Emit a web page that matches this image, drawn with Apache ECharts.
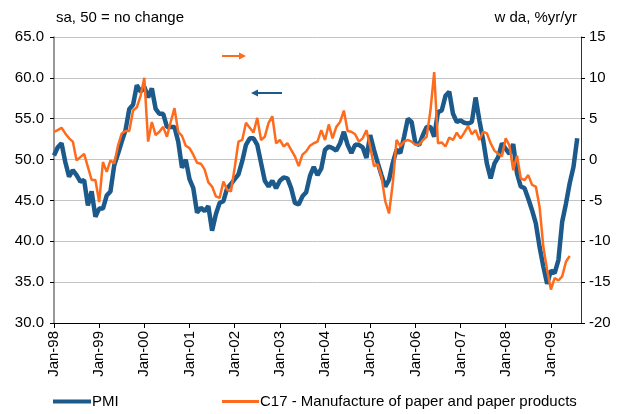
<!DOCTYPE html>
<html>
<head>
<meta charset="utf-8">
<script src="https://cdn.jsdelivr.net/npm/echarts@6/dist/echarts.min.js"></script>
<style>
  html, body { margin: 0; padding: 0; background: #fff; }
  #chart { width: 626px; height: 414px; }
</style>
</head>
<body>
<div id="chart"></div>
<script>
// monthly, Jan-98 .. Sep-09
const months = ['Jan','Feb','Mar','Apr','May','Jun','Jul','Aug','Sep','Oct','Nov','Dec'];
const startYear = 1998;
const monthCount = 141;

// PMI, sa, 50 = no change (left axis)
const pmi = [
  50.5, 51.5, 52.0, 49.7, 47.9, 48.7, 48.1, 47.3, 47.5, 44.4, 46.1, 43.0,
  44.0, 44.0, 45.6, 46.1, 49.3, 50.7, 52.2, 53.6, 56.2, 56.7, 59.1, 58.3,
  58.9, 57.6, 58.7, 56.2, 55.6, 55.6, 54.0, 54.0, 54.0, 52.2, 49.0, 50.0,
  47.6, 46.5, 43.5, 44.1, 43.7, 44.3, 41.3, 43.3, 44.7, 44.9, 46.5, 47.0,
  47.6, 48.2, 49.8, 51.8, 52.6, 52.6, 51.8, 49.6, 47.4, 46.7, 47.4, 46.5,
  47.4, 47.8, 47.7, 46.5, 44.7, 44.5, 45.5, 46.0, 48.0, 49.1, 48.1, 48.9,
  51.2, 51.6, 51.4, 51.1, 52.0, 53.4, 51.8, 50.8, 51.8, 51.8, 51.5, 50.2,
  53.0, 51.2, 49.6, 48.1, 46.7, 47.5, 49.6, 51.2, 50.8, 52.8, 55.0, 54.6,
  52.0, 51.8, 53.0, 54.0, 54.0, 52.8, 55.8, 56.0, 57.8, 58.3, 55.6, 54.6,
  54.8, 54.5, 54.4, 54.6, 57.6, 54.8, 52.4, 49.5, 47.7, 49.5, 50.3, 52.0,
  51.3, 50.7, 51.9, 48.3, 46.7, 46.5, 45.2, 43.8, 42.2, 39.3, 36.9, 34.8,
  36.4, 36.1, 37.7, 42.4, 44.6, 47.1, 49.1, 52.6
];

// C17 output, wda %yr/yr (right axis)
const paper = [
  3.4, 3.6, 3.9, 3.2, 2.6, 2.2, -0.1, 0.3, 0.7, -0.9, -2.5, -2.5,
  -5.2, -0.3, -1.5, -0.1, -0.5, 1.7, 3.2, 3.5, 3.5, 6.0, 6.4, 7.8,
  10.0, 2.2, 4.6, 3.0, 3.4, 4.0, 2.8, 4.6, 6.3, 3.4, 2.9, 1.7,
  1.4, 0.6, -0.4, -0.5, -1.2, -2.8, -3.3, -4.5, -4.7, -2.7, -3.7, -3.9,
  -1.0, 2.2, 2.4, 4.5, 3.9, 3.3, 5.1, 2.4, 2.8, 4.5, 5.3, 2.0,
  2.4, 1.6, 2.0, 1.2, 0.4, -0.8, 0.6, 1.0, 1.7, 2.0, 2.2, 3.6,
  2.4, 4.3, 2.6, 4.0, 4.6, 6.0, 3.5, 3.4, 3.1, 2.2, 2.6, 3.6,
  1.6, -0.8, -0.6, -2.1, -5.1, -6.6, -2.9, 2.4, 1.6, 2.2, 2.4, 2.2,
  1.8, 1.8, 2.4, 2.8, 6.0, 10.7, 2.0, 2.1, 1.6, 2.7, 2.4, 3.3,
  2.6, 3.3, 4.1, 3.1, 3.6, 2.4, 3.4, 3.2, 2.0, 1.1, 0.7, 0.4,
  2.6, 1.7, -1.3, 0.5, -2.3, -2.5, -1.9, -3.1, -3.3, -5.8, -10.7, -13.5,
  -15.9, -14.5, -14.8, -14.3, -12.5, -11.8
];

const categories = [];
for (let i = 0; i < monthCount; i++) {
  const y = (startYear + Math.floor(i / 12)) % 100;
  categories.push(months[i % 12] + '-' + String(y).padStart(2, '0'));
}

const FONT = 'Liberation Sans, Arial, sans-serif';
const FS = 15;
const BLUE = '#1B5A8A';
const ORANGE = '#FF6B1C';
const PMI_NAME = 'PMI';
const PAPER_NAME = 'C17 - Manufacture of paper and paper products';

const legendText = { fontSize: FS, color: '#000', fontFamily: FONT, padding: [0, 0, 0, -4] };

const myChart = echarts.init(document.getElementById('chart'));

const option = {
  animation: false,
  textStyle: { fontFamily: FONT },
  grid: { left: 54, right: 45, top: 37, bottom: 91 },
  legend: [
    {
      left: 48,
      bottom: 0,
      icon: 'rect',
      itemWidth: 38,
      itemHeight: 4,
      textStyle: legendText,
      data: [PMI_NAME],
    },
    {
      left: 217,
      bottom: 0,
      icon: 'rect',
      itemWidth: 37,
      itemHeight: 3,
      textStyle: legendText,
      data: [PAPER_NAME],
    },
  ],
  xAxis: {
    type: 'category',
    data: categories,
    boundaryGap: false,
    axisLine: { onZero: false, lineStyle: { color: '#000', width: 1 } },
    axisTick: { interval: 11, length: 5, lineStyle: { color: '#000' } },
    axisLabel: {
      interval: 11,
      rotate: 90,
      fontSize: FS,
      color: '#000',
      margin: 8,
    },
    splitLine: { show: false },
  },
  yAxis: [
    {
      type: 'value',
      min: 30,
      max: 65,
      interval: 5,
      name: 'sa, 50 = no change',
      nameLocation: 'end',
      nameGap: 12,
      nameTextStyle: { align: 'left', fontSize: FS, color: '#000', padding: [0, 0, 0, 2] },
      axisLine: { show: true, lineStyle: { color: '#777', width: 1.5 } },
      axisTick: { show: true, length: 4, lineStyle: { color: '#000' } },
      axisLabel: {
        fontSize: FS,
        color: '#000',
        margin: 10,
        formatter: (v) => v.toFixed(1),
      },
      splitLine: { show: true, lineStyle: { color: '#C4C4C4', width: 1 } },
    },
    {
      type: 'value',
      min: -20,
      max: 15,
      interval: 5,
      name: 'w da, %yr/yr',
      nameLocation: 'end',
      nameGap: 12,
      nameTextStyle: { align: 'right', fontSize: FS, color: '#000', padding: [0, 4, 0, 0] },
      axisLine: { show: true, lineStyle: { color: '#333', width: 1 } },
      axisTick: { show: true, length: 4, lineStyle: { color: '#000' } },
      axisLabel: { fontSize: FS, color: '#000', margin: 8 },
      splitLine: { show: false },
    },
  ],
  graphic: [
    // orange arrow -> right axis
    { type: 'line', shape: { x1: 222, y1: 56, x2: 240, y2: 56 }, style: { stroke: ORANGE, lineWidth: 2 } },
    { type: 'polygon', shape: { points: [[246, 56], [239, 52.5], [239, 59.5]] }, style: { fill: ORANGE } },
    // blue arrow <- left axis
    { type: 'line', shape: { x1: 258, y1: 93, x2: 282, y2: 93 }, style: { stroke: BLUE, lineWidth: 2 } },
    { type: 'polygon', shape: { points: [[251, 93], [258, 89.5], [258, 96.5]] }, style: { fill: BLUE } },
  ],
  series: [
    {
      name: PMI_NAME,
      type: 'line',
      yAxisIndex: 0,
      data: pmi,
      symbol: 'none',
      color: BLUE,
      lineStyle: { width: 4.5, color: BLUE },
      z: 2,
    },
    {
      name: PAPER_NAME,
      type: 'line',
      yAxisIndex: 1,
      data: paper,
      symbol: 'none',
      color: ORANGE,
      lineStyle: { width: 2.5, color: ORANGE },
      z: 3,
    },
  ],
};

myChart.setOption(option);
</script>
</body>
</html>
